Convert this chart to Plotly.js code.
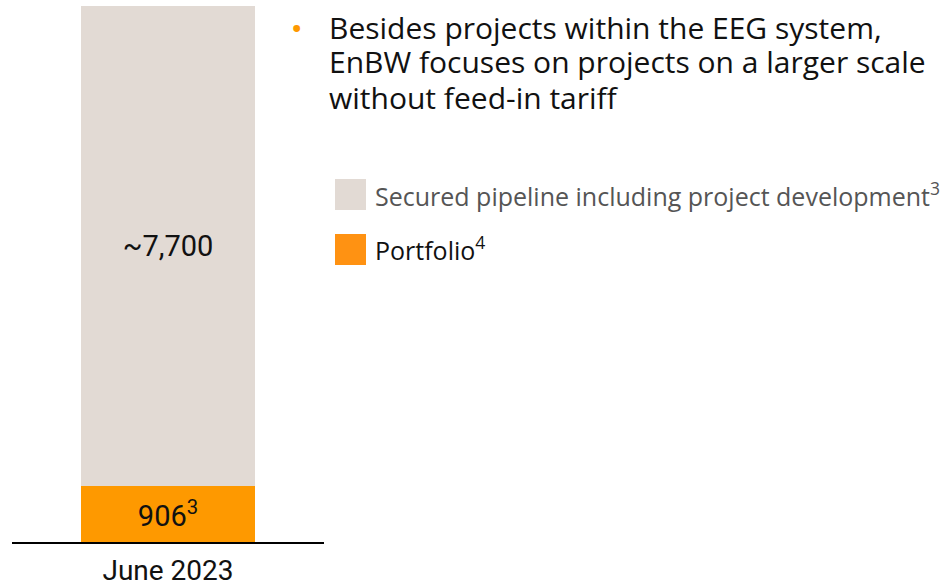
<!DOCTYPE html>
<html>
<head>
<meta charset="utf-8">
<script src="https://cdn.plot.ly/plotly-3.0.1.min.js"></script>
<style>html,body{margin:0;padding:0;background:#fff;}#chart{width:948px;height:588px;}</style>
</head>
<body>
<div id="chart"></div>
<script>
// ---- data ----
const categories = ["June 2023"];
const portfolioValues = [906];
const pipelineValues = [7700];
const portfolioLabels = ["906<sup>3</sup>"];
const pipelineLabels = ["~7,700"];
const seriesNames = ["Portfolio<sup>4</sup>", "Secured pipeline including project development<sup>3</sup>"];
const bulletLines = ["Besides projects within the EEG system,", "EnBW focuses on projects on a larger scale", "without feed-in tariff"];

// ---- styling ----
const ORANGE = "#FE9900";
const BEIGE = "#E2DAD4";
const FONT = "Roboto, 'DejaVu Sans', sans-serif";
const TFONT = "'Open Sans', Roboto, sans-serif";

const W = 948, H = 588;
const M = {l: 12, r: W - 324, t: 6, b: H - 542};
const PW = W - M.l - M.r, PH = H - M.t - M.b;
const px = x => (x - M.l) / PW;
const py = y => (H - M.b - y) / PH;

const total = portfolioValues[0] + pipelineValues[0];

const traces = [
  {
    type: "bar", x: categories, y: portfolioValues, name: seriesNames[0],
    marker: {color: ORANGE, line: {width: 0}}, width: 0.558,
    text: portfolioLabels, textposition: "inside", insidetextanchor: "middle",
    textangle: 0, constraintext: "none",
    textfont: {family: FONT, size: 29, color: "#111"}, hoverinfo: "none"
  },
  {
    type: "bar", x: categories, y: pipelineValues, name: seriesNames[1],
    marker: {color: BEIGE, line: {width: 0}}, width: 0.558,
    text: pipelineLabels, textposition: "inside", insidetextanchor: "middle",
    textangle: 0, constraintext: "none",
    textfont: {family: FONT, size: 29, color: "#111"}, hoverinfo: "none"
  }
];

const annotations = [];
const lineY = [27, 62, 97];
bulletLines.forEach((t, i) => annotations.push({
  xref: "paper", yref: "paper", x: px(327), y: py(lineY[i]), xanchor: "left", yanchor: "middle",
  text: t, align: "left", showarrow: false,
  font: {family: TFONT, size: 30, color: "#111"}
}));
annotations.push({
  xref: "paper", yref: "paper", x: px(296), y: py(29), xanchor: "center", yanchor: "middle",
  text: "•", showarrow: false, font: {family: FONT, size: 34, color: ORANGE}
});
annotations.push({
  xref: "paper", yref: "paper", x: px(373), y: py(194), xanchor: "left", yanchor: "middle",
  text: seriesNames[1], showarrow: false, font: {family: TFONT, size: 25, color: "#555"}
});
annotations.push({
  xref: "paper", yref: "paper", x: px(373), y: py(248), xanchor: "left", yanchor: "middle",
  text: seriesNames[0], showarrow: false, font: {family: TFONT, size: 25, color: "#111"}
});

const shapes = [
  {type: "rect", xref: "paper", yref: "paper", x0: px(335), x1: px(366), y0: py(210), y1: py(179),
   fillcolor: BEIGE, line: {width: 0}},
  {type: "rect", xref: "paper", yref: "paper", x0: px(335), x1: px(366), y0: py(265), y1: py(234),
   fillcolor: "#FF9212", line: {width: 0}}
];

const layout = {
  width: W, height: H,
  margin: M,
  paper_bgcolor: "#fff", plot_bgcolor: "#fff",
  barmode: "stack",
  showlegend: false,
  font: {family: FONT},
  xaxis: {
    type: "category", range: [-0.5, 0.5], showline: true, linecolor: "#000", linewidth: 2,
    ticks: "", showgrid: false, zeroline: false, ticklabelstandoff: 2,
    tickfont: {family: FONT, size: 28, color: "#111"}, fixedrange: true
  },
  yaxis: {visible: false, range: [0, total], fixedrange: true},
  annotations: annotations,
  shapes: shapes
};

Plotly.newPlot("chart", traces, layout, {staticPlot: true, displayModeBar: false});
</script>
</body>
</html>
